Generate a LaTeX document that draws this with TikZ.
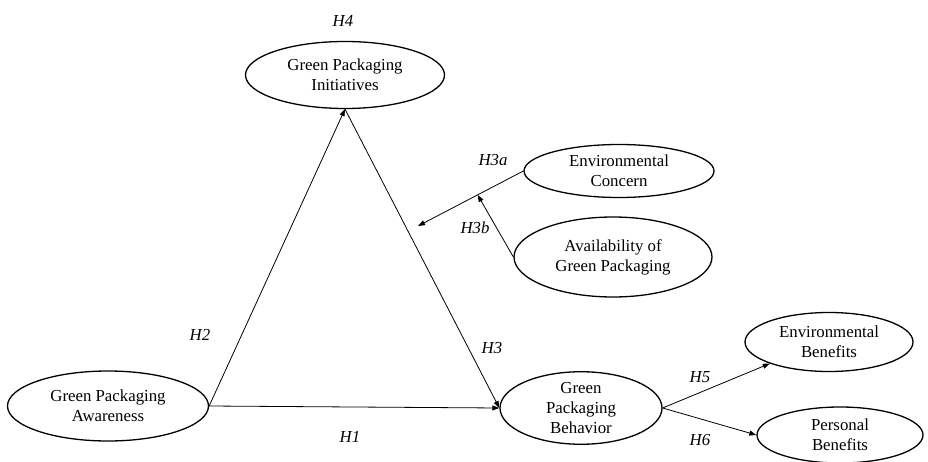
\documentclass[tikz,border=0pt]{standalone}
\usepackage{fontspec}
\setmainfont{Liberation Serif}
\usetikzlibrary{shapes.geometric,arrows.meta}
\begin{document}
\begin{tikzpicture}[x=1pt,y=-1pt,
  construct/.style={draw, line width=1.3pt, ellipse, inner sep=0pt, align=center,
    font=\fontsize{16.8}{20}\selectfont},
  hyplabel/.style={font=\fontsize{16.8}{20}\selectfont\itshape, inner sep=0pt},
  link/.style={line width=0.8pt, -{Triangle[length=7pt,width=5pt]}}]
\useasboundingbox (0,0) rectangle (928,462);
\fill[white] (0,0) rectangle (928,462);
\node[construct, minimum width=199pt, minimum height=67pt] (gpi) at (345,75) {Green Packaging\\Initiatives};
\node[construct, minimum width=190pt, minimum height=53pt] (ec) at (619,171) {Environmental\\Concern};
\node[construct, minimum width=198pt, minimum height=80pt] (av) at (613,257) {Availability of\\Green Packaging};
\node[construct, minimum width=201pt, minimum height=70pt] (gpa) at (108,406) {Green Packaging\\Awareness};
\node[construct, minimum width=162pt, minimum height=70pt] (gpb) at (581,408) {Green\\Packaging\\Behavior};
\node[construct, minimum width=168pt, minimum height=59pt] (eb) at (829,342) {Environmental\\Benefits};
\node[construct, minimum width=166pt, minimum height=56pt] (pb) at (840,435) {Personal\\Benefits};

\coordinate (mod) at (418,226);

\draw[link] (gpa.east) -- (gpb.west);
\draw[link] (gpa.east) -- (gpi.south);
\draw[link] (gpi.south) -- (gpb.west);
\draw[link] (ec.west) -- coordinate[pos=0.434] (hb) (mod);
\draw[link] (av.west) -- (hb);
\draw[link] (gpb.east) -- (eb.200);
\draw[link] (gpb.east) -- (pb.west);

\node[hyplabel] (h4) at (343,21) {H4};
\node[hyplabel] (h3a) at (493,160) {H3a};
\node[hyplabel] (h3b) at (475,228) {H3b};
\node[hyplabel] (h2) at (200,335) {H2};
\node[hyplabel] (h3) at (492,348) {H3};
\node[hyplabel] (h1) at (350,437) {H1};
\node[hyplabel] (h5) at (700,377) {H5};
\node[hyplabel] (h6) at (700,440) {H6};
\end{tikzpicture}
\end{document}
